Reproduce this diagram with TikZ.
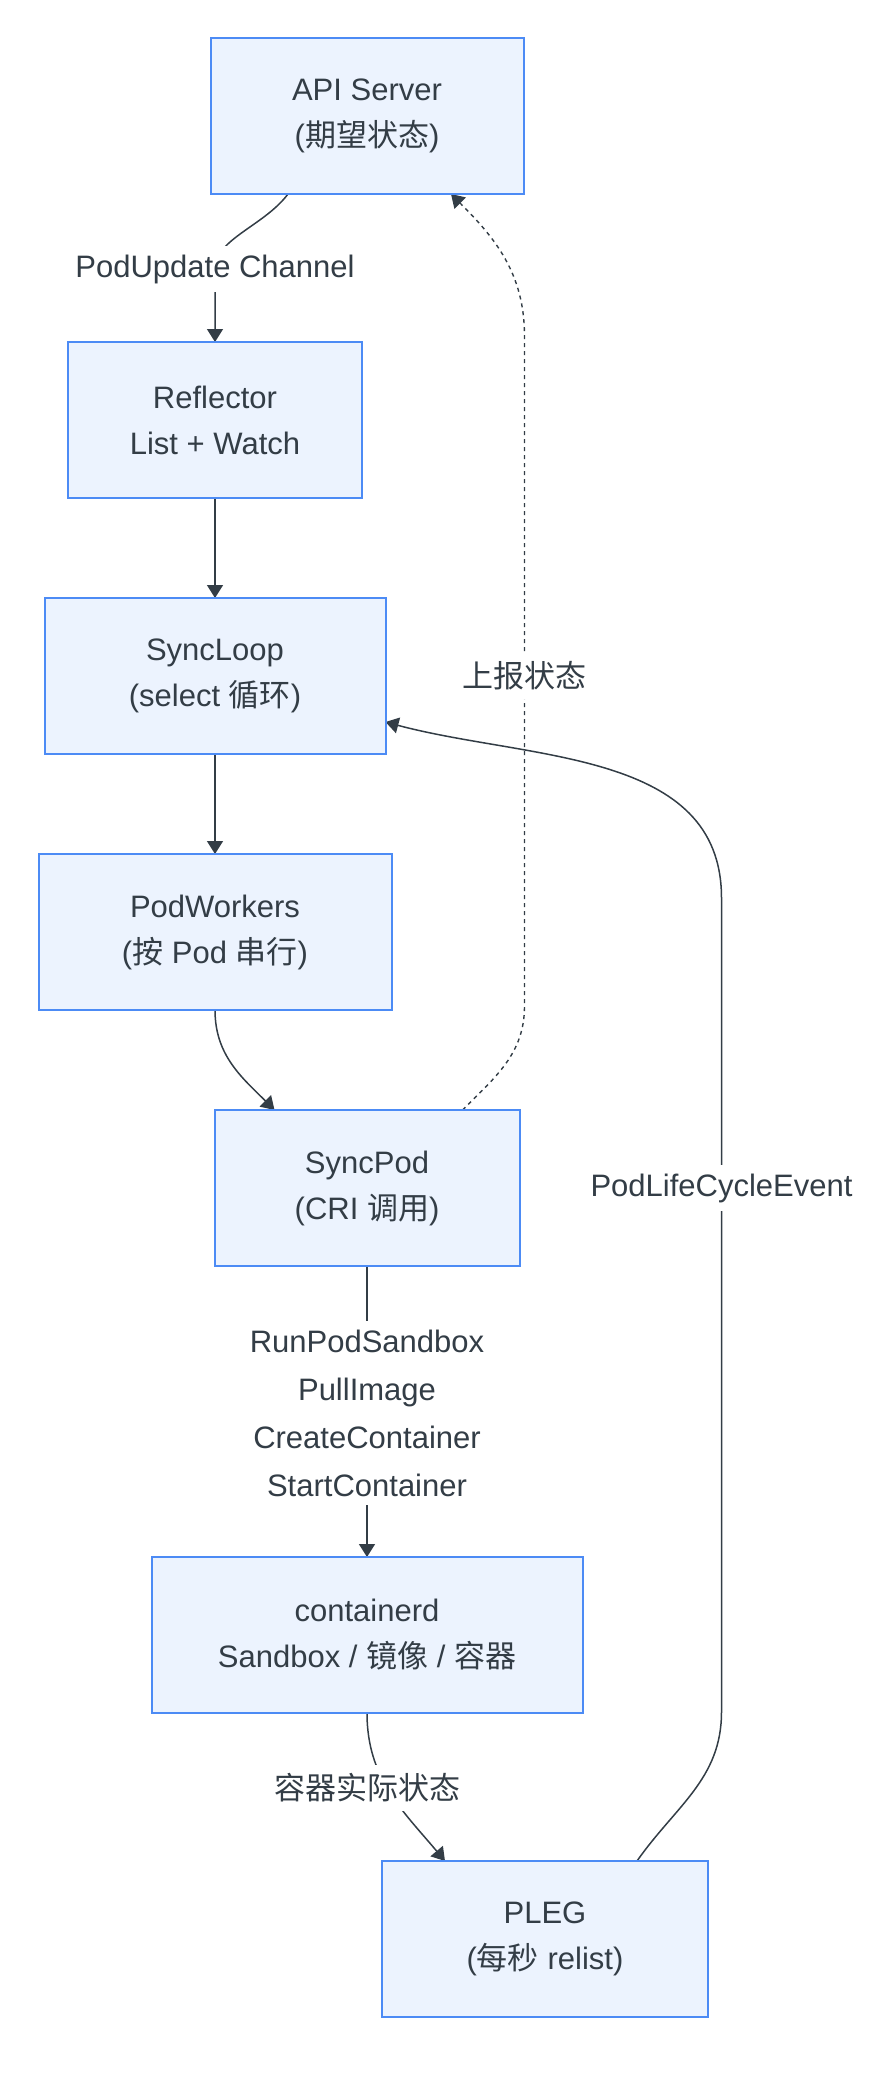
\documentclass[tikz,border=0pt]{standalone}
\usepackage{fontspec}
\setmainfont{Liberation Sans}
\newfontfamily\cjk{Noto Sans CJK SC}
\usetikzlibrary{positioning,arrows.meta,calc,backgrounds}
\definecolor{boxblue}{RGB}{76,139,245}
\definecolor{boxfill}{RGB}{236,243,254}
\definecolor{inkgray}{RGB}{51,61,70}

\begin{document}
\begin{tikzpicture}[
      >={Triangle[length=6.5pt,width=8pt]},
      box/.style={draw=boxblue, line width=1pt, fill=boxfill, align=center,
                  minimum height=78pt, inner sep=0pt, outer sep=0pt,
                  text=inkgray, font=\fontsize{15.5pt}{23pt}\selectfont},
      lbl/.style={fill=white, align=center, inner xsep=2pt, inner ysep=4.5pt,
                  text=inkgray, font=\fontsize{15.5pt}{24pt}\selectfont},
      arr/.style={->, line width=0.75pt, draw=inkgray},
      dasharr/.style={->, line width=0.7pt, draw=inkgray,
                      dash pattern=on 2pt off 2pt}
    ]
    \useasboundingbox (0,0) rectangle (442pt,-1039pt);
    \node[box, minimum width=156.5pt] (api) at (183.5pt,-58pt)
         {API Server\\({\cjk 期望状态})};
    \node[box, minimum width=147pt, below=74pt of api, xshift=-76pt] (refl)
         {Reflector\\List + Watch};
    \node[box, minimum width=170.5pt, below=50pt of refl] (loop)
         {SyncLoop\\(select {\cjk 循环})};
    \node[box, minimum width=176.5pt, below=50pt of loop] (workers)
         {PodWorkers\\({\cjk 按} Pod {\cjk 串行})};
    \node[box, minimum width=152.5pt, below=50pt of workers, xshift=76pt] (syncpod)
         {SyncPod\\(CRI {\cjk 调用})};
    \node[box, minimum width=215.5pt, below=145.5pt of syncpod] (ctrd)
         {containerd\\Sandbox / {\cjk 镜像} / {\cjk 容器}};
    \node[box, minimum width=163pt, below=74pt of ctrd, xshift=89pt] (pleg)
         {PLEG\\({\cjk 每秒} relist)};
    % edge labels
    \node[lbl] (pu)  at ($(api.south)+(-76pt,-37.5pt)$) {PodUpdate Channel};
    \node[lbl] (rep) at ($(loop.east)+(69.5pt,0)$) {\cjk 上报状态};
    \node[lbl] (cri) at ($(syncpod.south)+(0,-73.5pt)$)
         {RunPodSandbox\\PullImage\\CreateContainer\\StartContainer};
    \node[lbl] (act) at ($(ctrd.south)+(0,-37.5pt)$) {\cjk 容器实际状态};
    \node[lbl] (ple) at ($(syncpod.east)+(101pt,0)$) {PodLifeCycleEvent};
    \begin{scope}[on background layer]
      % main chain
      \draw[arr] ([xshift=-39.5pt]api.south) .. controls +(-12pt,-16pt)
                 and +(0,15pt) .. (pu.center) -- (refl.north);
      \draw[arr] (refl.south) -- (loop.north);
      \draw[arr] (loop.south) -- (workers.north);
      \draw[arr] (workers.south) to[out=-90,in=135] ([xshift=-46.25pt]syncpod.north);
      \draw[arr] (syncpod.south) -- (cri.center) -- (ctrd.north);
      \draw[arr] (ctrd.south) to[out=-90,in=130] ([xshift=-50pt]pleg.north);
      % feedback paths
      \draw[dasharr] ([xshift=47.75pt]syncpod.north) to[out=45,in=-90]
                     ([yshift=-165pt]rep.center) -- ([yshift=170pt]rep.center)
                     to[out=90,in=-45] ([xshift=42pt]api.south);
      \draw[arr] ([xshift=46pt]pleg.north) to[out=55,in=-90]
                 ([yshift=-262pt]ple.center) -- ([yshift=145pt]ple.center)
                 to[out=90,in=-15] ([yshift=-23pt]loop.east);
    \end{scope}
  \end{tikzpicture}
\end{document}
